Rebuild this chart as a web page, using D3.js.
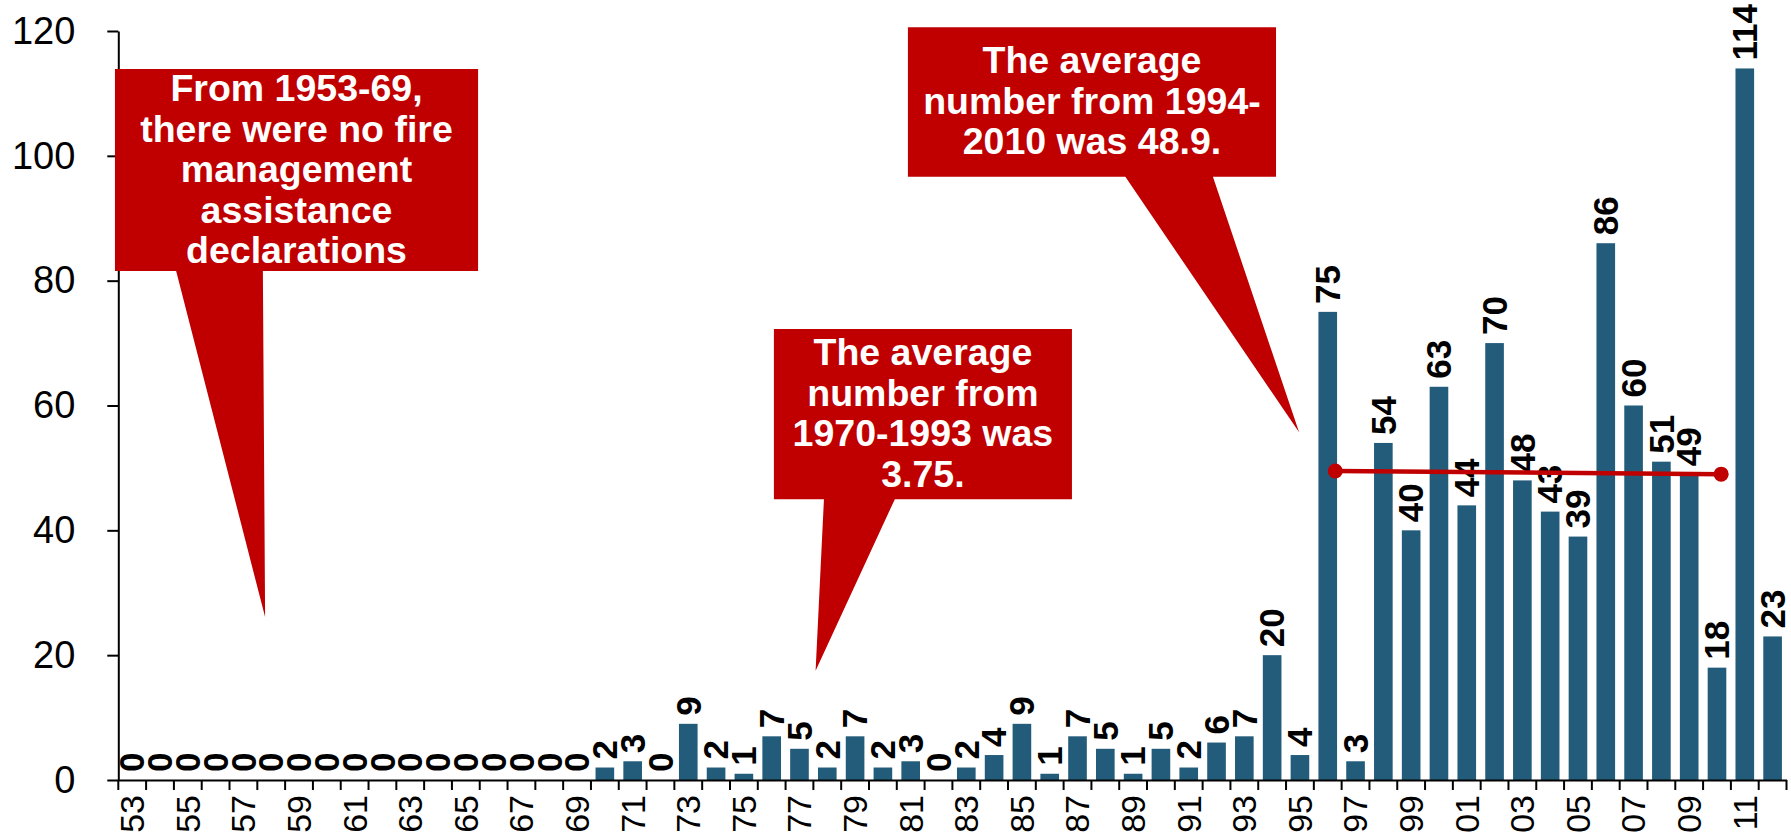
<!DOCTYPE html>
<html>
<head>
<meta charset="utf-8">
<script src="https://cdn.jsdelivr.net/npm/d3@7"></script>
<style>
  html, body { margin: 0; padding: 0; background: #ffffff; }
  svg { display: block; font-family: "Liberation Sans", Arial, Helvetica, sans-serif; }
</style>
</head>
<body>
<svg id="chart" width="1791" height="834"></svg>
<script>
// Fire management assistance declarations per year, 1953-2012
const years = [
  1953, 1954, 1955, 1956, 1957, 1958, 1959, 1960, 1961, 1962,
  1963, 1964, 1965, 1966, 1967, 1968, 1969, 1970, 1971, 1972,
  1973, 1974, 1975, 1976, 1977, 1978, 1979, 1980, 1981, 1982,
  1983, 1984, 1985, 1986, 1987, 1988, 1989, 1990, 1991, 1992,
  1993, 1994, 1995, 1996, 1997, 1998, 1999, 2000, 2001, 2002,
  2003, 2004, 2005, 2006, 2007, 2008, 2009, 2010, 2011, 2012
];
const declarations = [
  0, 0, 0, 0, 0, 0, 0, 0, 0, 0,
  0, 0, 0, 0, 0, 0, 0, 2, 3, 0,
  9, 2, 1, 7, 5, 2, 7, 2, 3, 0,
  2, 4, 9, 1, 7, 5, 1, 5, 2, 6,
  7, 20, 4, 75, 3, 54, 40, 63, 44, 70,
  48, 43, 39, 86, 60, 51, 49, 18, 114, 23
];
const yTicks = [0, 20, 40, 60, 80, 100, 120];
// Years that carry a two-digit label under the axis
const labelledYears = [
  1953, 1955, 1957, 1959, 1961, 1963, 1965, 1967, 1969, 1971,
  1973, 1975, 1977, 1979, 1981, 1983, 1985, 1987, 1989, 1991,
  1993, 1995, 1997, 1999, 2001, 2003, 2005, 2007, 2009, 2011
];
// Average line over the later period (year, value)
const avgYears = [1996.27, 2010.15];
const avgValues = [49.5, 49.0];

// Callout texts
const calloutTexts = [
  ["From 1953-69,", "there were no fire", "management", "assistance", "declarations"],
  ["The average", "number from", "1970-1993 was", "3.75."],
  ["The average", "number from 1994-", "2010 was 48.9."]
];
// Callout geometry in data space: box spans (years / values), pointer base (years) and tip (year, value)
const calloutShapes = [
  { x0: 1952.38, x1: 1965.44, top: 113.9, bottom: 81.55, base0: 1954.58, base1: 1957.70, tipYear: 1957.78, tipValue: 26.1 },
  { x0: 1976.08, x1: 1986.80, top: 72.25, bottom: 45.0,  base0: 1977.88, base1: 1980.43, tipYear: 1977.58, tipValue: 17.5 },
  { x0: 1980.90, x1: 1994.14, top: 120.6, bottom: 96.65, base0: 1988.72, base1: 1991.87, tipYear: 1994.97, tipValue: 55.7 }
];

const BAR = "#235C7A";
const RED = "#C00000";

const svg = d3.select("#chart");
const plotLeft = 118.3, plotRight = 1786.5, plotTop = 31, plotBottom = 780;

const x = d3.scaleBand().domain(years).range([plotLeft, plotRight]).paddingInner(0.33).paddingOuter(0.165);
const step = x.step();
const bw = x.bandwidth();
const xc = d3.scaleLinear()
  .domain([years[0], years[years.length - 1]])
  .range([x(years[0]) + bw / 2, x(years[years.length - 1]) + bw / 2]);
const y = d3.scaleLinear().domain([0, 120]).range([plotBottom, plotTop]);

const data = years.map((yr, i) => ({ year: yr, value: declarations[i] }));

// Bars
svg.append("g").selectAll("rect").data(data).join("rect")
  .attr("x", d => x(d.year))
  .attr("y", d => y(d.value))
  .attr("width", bw)
  .attr("height", d => y(0) - y(d.value))
  .attr("fill", BAR);

// Value labels above the bars, reading upwards
svg.append("g").selectAll("text").data(data).join("text")
  .attr("transform", d => `translate(${x(d.year) + bw / 2},${y(d.value) - 8}) rotate(-90)`)
  .attr("dy", "0.35em")
  .attr("text-anchor", "start")
  .attr("font-size", 35)
  .attr("font-weight", "bold")
  .attr("fill", "#000")
  .text(d => d.value);

// Y axis
const yAxis = svg.append("g")
  .attr("transform", `translate(${plotLeft},0)`)
  .call(d3.axisLeft(y).tickValues(yTicks).tickSize(11).tickSizeOuter(0).tickPadding(32));
yAxis.attr("font-family", null);
yAxis.selectAll("text").attr("font-size", 38).attr("fill", "#000");
yAxis.selectAll("line, path").attr("stroke", "#000").attr("stroke-width", 2);

// X axis: tick marks between categories, labels on every other year
const labelSet = new Set(labelledYears);
const xAxis = svg.append("g")
  .attr("transform", `translate(0,${plotBottom})`)
  .call(d3.axisBottom(x).tickSize(10).tickSizeOuter(0)
    .tickFormat(d => labelSet.has(d) ? String(d % 100).padStart(2, "0") : ""));
xAxis.attr("font-family", null);
xAxis.selectAll(".tick line").attr("x1", -step / 2).attr("x2", -step / 2);
xAxis.selectAll(".tick text")
  .attr("transform", "rotate(-90)")
  .attr("x", -15).attr("y", 0).attr("dy", "0.35em")
  .attr("text-anchor", "end")
  .attr("font-size", 34)
  .attr("fill", "#000");
xAxis.append("line")
  .attr("x1", plotRight).attr("x2", plotRight).attr("y1", 0).attr("y2", 10);
xAxis.selectAll("line, path").attr("stroke", "#000").attr("stroke-width", 2);

// Average line with end markers
const avgPts = avgYears.map((yr, i) => [xc(yr), y(avgValues[i])]);
svg.append("path")
  .attr("d", d3.line()(avgPts))
  .attr("stroke", RED).attr("stroke-width", 4.5).attr("fill", "none");
svg.append("g").selectAll("circle").data(avgPts).join("circle")
  .attr("cx", d => d[0]).attr("cy", d => d[1]).attr("r", 7.5).attr("fill", RED);

// Callouts
const lineGap = 40.5;
calloutShapes.forEach((c, i) => {
  const g = svg.append("g");
  const bx0 = xc(c.x0), bx1 = xc(c.x1), by0 = y(c.top), by1 = y(c.bottom);
  g.append("path")
    .attr("d", `M${bx0},${by0}H${bx1}V${by1}H${xc(c.base1)}L${xc(c.tipYear)},${y(c.tipValue)}L${xc(c.base0)},${by1}H${bx0}Z`)
    .attr("fill", RED);
  const lines = calloutTexts[i];
  const cx = (bx0 + bx1) / 2, cy = (by0 + by1) / 2 + 12;
  g.selectAll("text").data(lines).join("text")
    .attr("x", cx)
    .attr("y", (d, j) => cy + (j - (lines.length - 1) / 2) * lineGap)
    .attr("text-anchor", "middle")
    .attr("font-size", 37.5)
    .attr("font-weight", "bold")
    .attr("fill", "#fff")
    .text(d => d);
});
</script>
</body>
</html>
